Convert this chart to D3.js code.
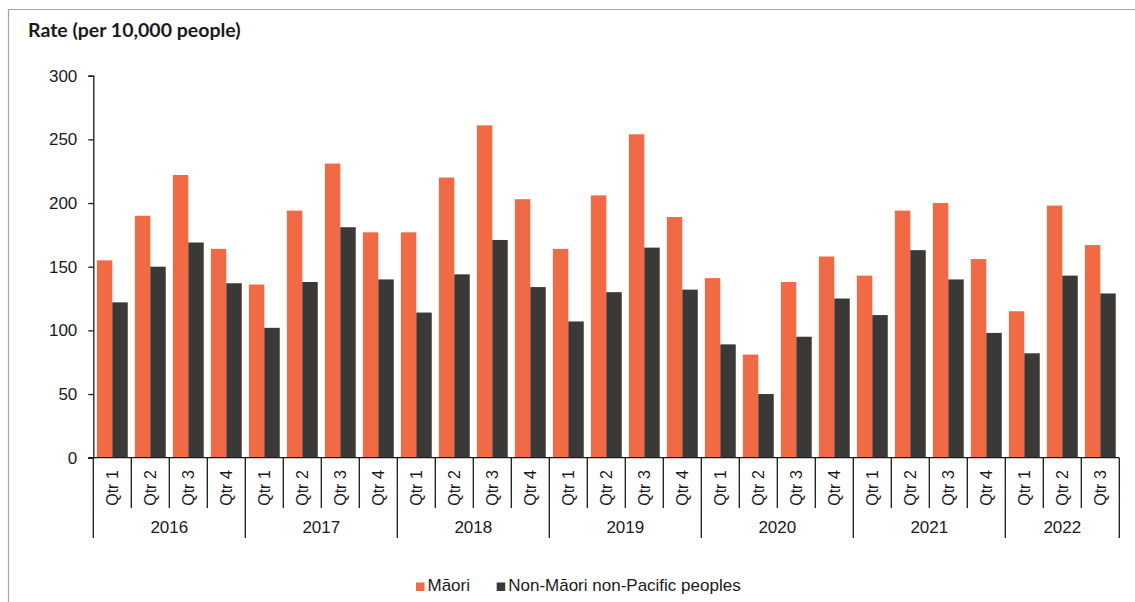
<!DOCTYPE html>
<html>
<head>
<meta charset="utf-8">
<script src="https://cdn.jsdelivr.net/npm/d3@7"></script>
<style>
  html, body { margin: 0; padding: 0; background: #fff; }
  svg { display: block; }
  text { font-family: "Liberation Sans", Arial, sans-serif; fill: #1a1a1a; }
</style>
</head>
<body>
<svg id="chart" width="1135" height="602"></svg>
<script>
const years = ["2016", "2017", "2018", "2019", "2020", "2021", "2022"];
const quarters = ["Qtr 1", "Qtr 2", "Qtr 3", "Qtr 4",
                  "Qtr 1", "Qtr 2", "Qtr 3", "Qtr 4",
                  "Qtr 1", "Qtr 2", "Qtr 3", "Qtr 4",
                  "Qtr 1", "Qtr 2", "Qtr 3", "Qtr 4",
                  "Qtr 1", "Qtr 2", "Qtr 3", "Qtr 4",
                  "Qtr 1", "Qtr 2", "Qtr 3", "Qtr 4",
                  "Qtr 1", "Qtr 2", "Qtr 3"];
const quarterYears = ["2016","2016","2016","2016","2017","2017","2017","2017",
                      "2018","2018","2018","2018","2019","2019","2019","2019",
                      "2020","2020","2020","2020","2021","2021","2021","2021",
                      "2022","2022","2022"];
const maori = [155, 190, 222, 164, 136, 194, 231, 177,
               177, 220, 261, 203, 164, 206, 254, 189,
               141, 81, 138, 158, 143, 194, 200, 156,
               115, 198, 167];
const nonMaori = [122, 150, 169, 137, 102, 138, 181, 140,
                  114, 144, 171, 134, 107, 130, 165, 132,
                  89, 50, 95, 125, 112, 163, 140, 98,
                  82, 143, 129];
const seriesNames = ["Māori", "Non-Māori non-Pacific peoples"];
const seriesColors = ["#F06A45", "#3B3838"];
const yTicks = [0, 50, 100, 150, 200, 250, 300];
const titleText = "Rate (per 10,000 people)";

(function () {
const svg = d3.select("#chart");

// frame
svg.append("path")
  .attr("d", "M8.5,602 V9.5 H1135")
  .attr("fill", "none").attr("stroke", "#a6a6a6").attr("stroke-width", 1.2);

const pLeft = 93.3, pRight = 1119.3, pTop = 75.7, pBottom = 457.7;
const idx = d3.range(quarters.length);

const x0 = d3.scaleBand().domain(idx).range([pLeft, pRight]).paddingInner(0).paddingOuter(0);
const x1 = d3.scaleBand().domain([0, 1]).range([0, x0.bandwidth()]).paddingInner(0).paddingOuter(0.23);
const y = d3.scaleLinear().domain([0, 300]).range([pBottom, pTop]);

// title
svg.append("text")
  .attr("x", 28).attr("y", 37)
  .style("font-family", "Lato, 'Liberation Sans', sans-serif")
  .style("font-weight", "bold").style("font-size", "19.5px")
  .text(titleText);

// bars
const groups = svg.append("g").selectAll("g").data(idx).join("g")
  .attr("transform", i => `translate(${x0(i)},0)`);
groups.selectAll("rect")
  .data(i => [maori[i], nonMaori[i]])
  .join("rect")
  .attr("x", (d, j) => x1(j))
  .attr("width", x1.bandwidth())
  .attr("y", d => y(d))
  .attr("height", d => y(0) - y(d))
  .attr("fill", (d, j) => seriesColors[j]);

// y axis
const yAxis = svg.append("g").attr("transform", `translate(${pLeft},0)`)
  .call(d3.axisLeft(y).tickValues(yTicks).tickSize(5).tickPadding(11).tickFormat(d3.format("d")));
yAxis.select(".domain").attr("stroke", "#1a1a1a").attr("stroke-width", 1.3);
yAxis.selectAll(".tick line").attr("stroke", "#1a1a1a").attr("stroke-width", 1.3);
yAxis.selectAll(".tick text").style("font-size", "17px").style("font-family", "'Liberation Sans', Arial, sans-serif").attr("fill", "#1a1a1a");

// x axis baseline
svg.append("line")
  .attr("x1", pLeft - 5).attr("x2", pRight)
  .attr("y1", pBottom).attr("y2", pBottom)
  .attr("stroke", "#1a1a1a").attr("stroke-width", 1.3);

// dividers
const xg = svg.append("g");
const n = quarters.length;
const boundaries = d3.range(n + 1);
const bx = i => i < n ? x0(i) : x0(i - 1) + x0.bandwidth();
xg.selectAll("line.div").data(boundaries).join("line")
  .attr("class", "div")
  .attr("x1", bx).attr("x2", bx)
  .attr("y1", pBottom)
  .attr("y2", i => (i === 0 || i === n || quarterYears[i] !== quarterYears[i - 1]) ? 538 : 508)
  .attr("stroke", "#1a1a1a").attr("stroke-width", 1.3);

// quarter labels
xg.selectAll("text.q").data(idx).join("text")
  .attr("class", "q")
  .attr("transform", i => `translate(${x0(i) + x0.bandwidth() / 2},488) rotate(-90)`)
  .attr("text-anchor", "middle").attr("dy", "0.35em")
  .style("font-size", "16px")
  .text(i => quarters[i]);

// year labels
xg.selectAll("text.yr").data(years).join("text")
  .attr("class", "yr")
  .attr("x", yr => {
    const ii = idx.filter(i => quarterYears[i] === yr);
    return (x0(ii[0]) + x0(ii[ii.length - 1]) + x0.bandwidth()) / 2;
  })
  .attr("y", 533)
  .attr("text-anchor", "middle")
  .style("font-size", "17px")
  .text(d => d);

// legend
const legendX = [416, 496.7];
const leg = svg.append("g").selectAll("g").data(seriesNames).join("g")
  .attr("transform", (d, j) => `translate(${legendX[j]},0)`);
leg.append("rect").attr("x", 0).attr("y", 582.5).attr("width", 8.5).attr("height", 8.5)
  .attr("fill", (d, j) => seriesColors[j]);
leg.append("text").attr("x", 11.5).attr("y", 591).style("font-size", "17px").text(d => d);
})();
</script>
</body>
</html>
